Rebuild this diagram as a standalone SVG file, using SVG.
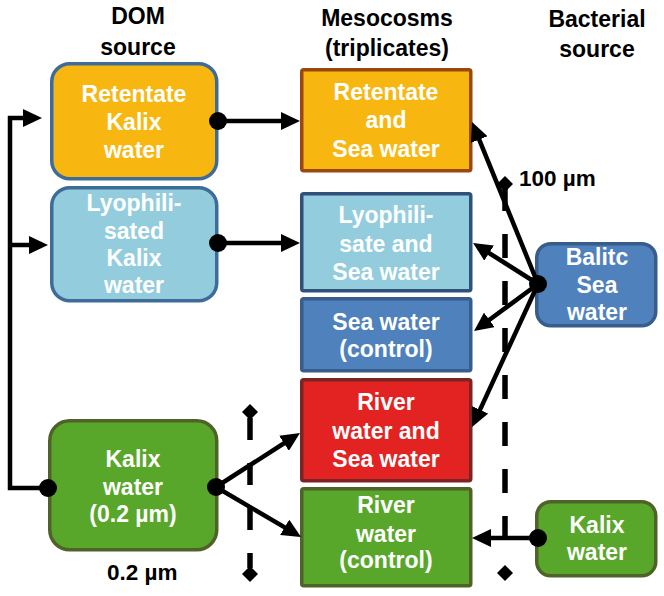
<svg xmlns="http://www.w3.org/2000/svg" width="664" height="596" viewBox="0 0 664 596">
<defs>
<style>
text{font-family:"Liberation Sans",Arial,sans-serif;font-weight:bold;text-anchor:middle}
.hd{font-size:23px;fill:#000}
.nt{font-size:23px;fill:#fff}
.lb{font-size:22.5px;fill:#000;text-anchor:start}
.c{fill:none;stroke:#000;stroke-width:4.5}
.dash{fill:none;stroke:#000;stroke-width:5.5}
.dot{fill:#000}
.box{stroke-width:3.5}
</style>
<marker id="ah" markerUnits="userSpaceOnUse" markerWidth="19" markerHeight="18" refX="7" refY="9" orient="auto">
<path d="M0,0 L19,9 L0,18 z" fill="#000"/>
</marker>
</defs>
<rect width="664" height="596" fill="#fff"/>

<g id="headers">
<text class="hd" x="138" y="24">DOM</text>
<text class="hd" x="138" y="55">source</text>
<text class="hd" x="387" y="26">Mesocosms</text>
<text class="hd" x="387" y="56">(triplicates)</text>
<text class="hd" x="597" y="27">Bacterial</text>
<text class="hd" x="597" y="57">source</text>
</g>

<g id="n-retentate-kalix">
<rect class="box" x="51.75" y="63.75" width="165" height="115" rx="18" fill="#F7B710" stroke="#3D6C99"/>
<text class="nt" x="134" y="102">Retentate</text>
<text class="nt" x="134" y="130">Kalix</text>
<text class="nt" x="134" y="158">water</text>
</g>
<g id="n-lyophilisated-kalix">
<rect class="box" x="51.75" y="187.75" width="165" height="113" rx="18" fill="#93CDDD" stroke="#3D6C99"/>
<text class="nt" x="134" y="211">Lyophili-</text>
<text class="nt" x="134" y="239">sated</text>
<text class="nt" x="134" y="266">Kalix</text>
<text class="nt" x="134" y="293">water</text>
</g>
<g id="n-kalix-02">
<rect class="box" x="49.75" y="420.75" width="167" height="129" rx="20" fill="#58A72A" stroke="#4F6228"/>
<text class="nt" x="133" y="467">Kalix</text>
<text class="nt" x="133" y="495">water</text>
<text class="nt" x="133" y="522">(0.2 µm)</text>
</g>

<g id="m-retentate-sea">
<rect class="box" x="301.75" y="69.75" width="169" height="101" rx="2" fill="#F7B710" stroke="#99480F"/>
<text class="nt" x="386" y="100">Retentate</text>
<text class="nt" x="386" y="128">and</text>
<text class="nt" x="386" y="157">Sea water</text>
</g>
<g id="m-lyophilisate-sea">
<rect class="box" x="301.75" y="193.75" width="169" height="97" rx="2" fill="#93CDDD" stroke="#2F5179"/>
<text class="nt" x="386" y="223">Lyophili-</text>
<text class="nt" x="386" y="252">sate and</text>
<text class="nt" x="386" y="280">Sea water</text>
</g>
<g id="m-sea-control">
<rect class="box" x="301.75" y="298.75" width="169" height="72" rx="2" fill="#4F81BD" stroke="#385D8A"/>
<text class="nt" x="386" y="330">Sea water</text>
<text class="nt" x="386" y="357">(control)</text>
</g>
<g id="m-river-sea">
<rect class="box" x="301.75" y="379.75" width="169" height="101" rx="2" fill="#E32222" stroke="#7A2424"/>
<text class="nt" x="386" y="410">River</text>
<text class="nt" x="386" y="439">water and</text>
<text class="nt" x="386" y="467">Sea water</text>
</g>
<g id="m-river-control">
<rect class="box" x="301.75" y="488.75" width="169" height="97" rx="2" fill="#58A72A" stroke="#4F6228"/>
<text class="nt" x="386" y="513">River</text>
<text class="nt" x="386" y="542">water</text>
<text class="nt" x="386" y="568">(control)</text>
</g>

<g id="b-baltic">
<rect class="box" x="536.75" y="243.75" width="119" height="82" rx="14" fill="#4F81BD" stroke="#385D8A"/>
<text class="nt" x="597" y="265">Balitc</text>
<text class="nt" x="597" y="293">Sea</text>
<text class="nt" x="597" y="320">water</text>
</g>
<g id="b-kalix">
<rect class="box" x="536.75" y="501.75" width="119" height="74" rx="14" fill="#58A72A" stroke="#4F6228"/>
<text class="nt" x="597" y="533">Kalix</text>
<text class="nt" x="597" y="560">water</text>
</g>

<g id="connectors">
<path class="c" d="M48,488 H10 V118 H30" marker-end="url(#ah)"/>
<path class="c" d="M10,245 H36" marker-end="url(#ah)"/>
<path class="c" d="M218,121 H288" marker-end="url(#ah)"/>
<path class="c" d="M218,243 H288" marker-end="url(#ah)"/>
<path class="c" d="M216,487 L289.9,439.5" marker-end="url(#ah)"/>
<path class="c" d="M216,487 L290.7,530.9" marker-end="url(#ah)"/>
<path class="c" d="M538,284 L476.6,133.1" marker-end="url(#ah)"/>
<path class="c" d="M538,284 L483.2,249.3" marker-end="url(#ah)"/>
<path class="c" d="M538,284 L483.7,324" marker-end="url(#ah)"/>
<path class="c" d="M538,284 L477.1,416.1" marker-end="url(#ah)"/>
<path class="c" d="M538,538 H484" marker-end="url(#ah)"/>
<circle class="dot" cx="48" cy="488" r="9"/>
<circle class="dot" cx="218" cy="121" r="9"/>
<circle class="dot" cx="218" cy="243" r="9"/>
<circle class="dot" cx="216" cy="487" r="9"/>
<circle class="dot" cx="538" cy="284" r="9"/>
<circle class="dot" cx="538" cy="538" r="9"/>
</g>

<g id="filters">
<line class="dash" x1="505" y1="187" x2="505" y2="541" stroke-dasharray="24 23"/>
<polygon points="505,176 513,184 505,192 497,184" fill="#000"/>
<polygon points="505,565 513,573 505,581 497,573" fill="#000"/>
<line class="dash" x1="250" y1="418" x2="250" y2="568" stroke-dasharray="22 23"/>
<polygon points="250,404 258,412 250,420 242,412" fill="#000"/>
<polygon points="250,566 258,574 250,582 242,574" fill="#000"/>
<text class="lb" x="519" y="186">100 µm</text>
<text class="lb" x="107" y="580">0.2 µm</text>
</g>
</svg>
